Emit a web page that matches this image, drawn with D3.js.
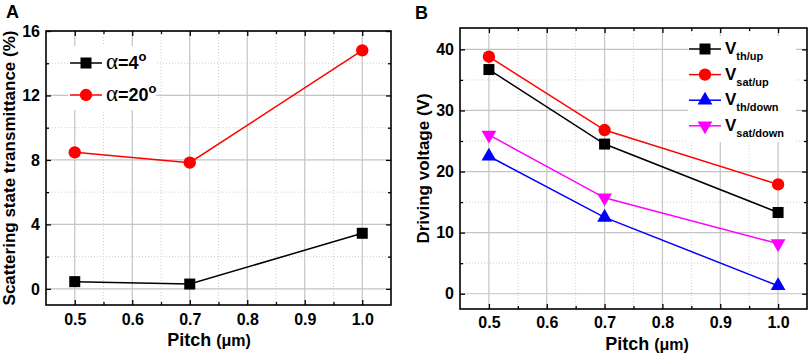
<!DOCTYPE html>
<html>
<head>
<meta charset="utf-8">
<script src="https://cdn.jsdelivr.net/npm/d3@7"></script>
<style>
  body { margin: 0; background: #fff; }
  svg text { font-family: "Liberation Sans", Arial, sans-serif; font-weight: bold; }
</style>
</head>
<body>
<div id="chart"></div>
<script>
// values
const pitch = [0.5, 0.7, 1.0];
const alpha4 = [0.45, 0.3, 3.45];
const alpha20 = [8.47, 7.83, 14.8];
const vThUp = [36.7, 24.5, 13.3];
const vSatUp = [38.8, 26.8, 17.9];
const vThDown = [22.5, 12.5, 1.3];
const vSatDown = [26.0, 15.7, 8.2];

const xTicks = [0.5, 0.6, 0.7, 0.8, 0.9, 1.0];
const xMinor = [0.55, 0.65, 0.75, 0.85, 0.95];
const yTicksA = [0, 4, 8, 12, 16];
const yMinorA = [2, 6, 10, 14];
const yTicksB = [0, 10, 20, 30, 40];
const yMinorB = [5, 15, 25, 35];

var svg = d3.select("#chart").append("svg")
    .attr("width", 809)
    .attr("height", 355);

//draws one framed panel, returns scales
function panel(box, yDomain, yTicks, yMinor) {
    var x = d3.scaleLinear().domain([0.45, 1.05]).range([box.left, box.right]);
    var y = d3.scaleLinear().domain(yDomain).range([box.bottom, box.top]);
    var g = svg.append("g");

    //minor grid (dotted)
    g.selectAll(".gxm").data(xMinor).enter().append("line")
        .attr("x1", d => x(d)).attr("x2", d => x(d))
        .attr("y1", box.top).attr("y2", box.bottom)
        .attr("stroke", "#d0d0d0").attr("stroke-dasharray", "1,2");
    g.selectAll(".gym").data(yMinor).enter().append("line")
        .attr("y1", d => y(d)).attr("y2", d => y(d))
        .attr("x1", box.left).attr("x2", box.right)
        .attr("stroke", "#d0d0d0").attr("stroke-dasharray", "1,2");
    //major grid
    g.selectAll(".gx").data(xTicks).enter().append("line")
        .attr("x1", d => x(d)).attr("x2", d => x(d))
        .attr("y1", box.top).attr("y2", box.bottom)
        .attr("stroke", "#c4c4c4").attr("stroke-width", 1.2);
    g.selectAll(".gy").data(yTicks).enter().append("line")
        .attr("y1", d => y(d)).attr("y2", d => y(d))
        .attr("x1", box.left).attr("x2", box.right)
        .attr("stroke", "#c4c4c4").attr("stroke-width", 1.2);

    //axes with inward ticks on all four sides
    var fmt = d3.format(".1f");
    svg.append("g").attr("transform", "translate(0," + box.bottom + ")")
        .call(d3.axisBottom(x).tickValues(xTicks).tickSizeInner(-5).tickSizeOuter(0).tickPadding(box.xPad).tickFormat(fmt));
    svg.append("g").attr("transform", "translate(0," + box.bottom + ")")
        .call(d3.axisBottom(x).tickValues(xMinor).tickSizeInner(-3).tickSizeOuter(0).tickFormat(""));
    svg.append("g").attr("transform", "translate(0," + box.top + ")")
        .call(d3.axisTop(x).tickValues(xTicks).tickSizeInner(-5).tickSizeOuter(0).tickFormat(""));
    svg.append("g").attr("transform", "translate(0," + box.top + ")")
        .call(d3.axisTop(x).tickValues(xMinor).tickSizeInner(-3).tickSizeOuter(0).tickFormat(""));
    svg.append("g").attr("transform", "translate(" + box.left + ",0)")
        .call(d3.axisLeft(y).tickValues(yTicks).tickSizeInner(-5).tickSizeOuter(0).tickPadding(6));
    svg.append("g").attr("transform", "translate(" + box.left + ",0)")
        .call(d3.axisLeft(y).tickValues(yMinor).tickSizeInner(-3).tickSizeOuter(0).tickFormat(""));
    svg.append("g").attr("transform", "translate(" + box.right + ",0)")
        .call(d3.axisRight(y).tickValues(yTicks).tickSizeInner(-5).tickSizeOuter(0).tickFormat(""));
    svg.append("g").attr("transform", "translate(" + box.right + ",0)")
        .call(d3.axisRight(y).tickValues(yMinor).tickSizeInner(-3).tickSizeOuter(0).tickFormat(""));

    svg.selectAll(".domain").remove();
    svg.selectAll(".tick line").attr("stroke", "#000").attr("stroke-width", 1.3);
    svg.selectAll(".tick text").attr("font-size", 16).attr("font-family", "Liberation Sans")
        .attr("font-weight", "bold").attr("fill", "#000");

    //frame
    svg.append("rect")
        .attr("x", box.left).attr("y", box.top)
        .attr("width", box.right - box.left).attr("height", box.bottom - box.top)
        .attr("fill", "none").attr("stroke", "#000").attr("stroke-width", 1.6);

    return {x: x, y: y};
}

function series(sc, vals, color, shape, size, rot) {
    var pts = pitch.map((p, i) => [p, vals[i]]);
    svg.append("path")
        .datum(pts)
        .attr("fill", "none")
        .attr("stroke", color)
        .attr("stroke-width", 1.5)
        .attr("d", d3.line().x(d => sc.x(d[0])).y(d => sc.y(d[1])));
    svg.selectAll(null).data(pts).enter().append("path")
        .attr("d", d3.symbol().type(shape).size(size))
        .attr("fill", color)
        .attr("transform", d => "translate(" + sc.x(d[0]) + "," + sc.y(d[1]) + ") rotate(" + (rot || 0) + ")");
}

function legendRow(lx, ly, color, shape, size, rot) {
    svg.append("line")
        .attr("x1", lx - 16).attr("x2", lx + 16).attr("y1", ly).attr("y2", ly)
        .attr("stroke", color).attr("stroke-width", 1.5);
    svg.append("path")
        .attr("d", d3.symbol().type(shape).size(size))
        .attr("fill", color)
        .attr("transform", "translate(" + lx + "," + ly + ") rotate(" + (rot || 0) + ")");
}

// ---------- panel A ----------
var a = panel({left: 46, right: 391, top: 31, bottom: 305, xPad: 9}, [-1, 16], yTicksA, yMinorA);
series(a, alpha4, "#000", d3.symbolSquare, 121);
series(a, alpha20, "#ff0000", d3.symbolCircle, 120);

svg.append("rect").attr("x", 68).attr("y", 46).attr("width", 88).attr("height", 64).attr("fill", "#fff");
legendRow(86, 63, "#000", d3.symbolSquare, 121);
legendRow(86, 95, "#ff0000", d3.symbolCircle, 120);
[["4", 63], ["20", 95]].forEach(function(r) {
    var t = svg.append("text").attr("x", 106).attr("y", r[1] + 6).attr("font-size", 18);
    t.append("tspan").attr("font-family", "Liberation Serif").attr("font-weight", "normal").attr("font-size", 23).text("α");
    t.append("tspan").text("=" + r[0]);
    t.append("tspan").attr("font-size", 13).attr("dy", -8).text("o");
});

svg.append("text").attr("x", 6).attr("y", 18).attr("font-size", 18).text("A");
svg.append("text")
    .attr("transform", "translate(15," + (31 + 305) / 2 + ") rotate(-90)")
    .attr("text-anchor", "middle").attr("font-size", 17)
    .text("Scattering state transmittance (%)");
var xa = svg.append("text").attr("x", 209).attr("y", 346).attr("text-anchor", "middle").attr("font-size", 18);
xa.append("tspan").text("Pitch ");
xa.append("tspan").attr("font-size", 16).text("(μm)");

// ---------- panel B ----------
var b = panel({left: 460, right: 807, top: 28, bottom: 309, xPad: 8}, [-2.5, 43.5], yTicksB, yMinorB);
series(b, vThUp, "#000", d3.symbolSquare, 121);
series(b, vSatUp, "#ff0000", d3.symbolCircle, 120);
series(b, vThDown, "#0000ff", d3.symbolTriangle, 95);
series(b, vSatDown, "#ff00ff", d3.symbolTriangle, 95, 180);

svg.append("rect").attr("x", 688).attr("y", 36).attr("width", 108).attr("height", 106).attr("fill", "#fff");
var legB = [
    ["th/up", "#000", d3.symbolSquare, 121, 0],
    ["sat/up", "#ff0000", d3.symbolCircle, 120, 0],
    ["th/down", "#0000ff", d3.symbolTriangle, 95, 0],
    ["sat/down", "#ff00ff", d3.symbolTriangle, 95, 180]
];
legB.forEach(function(r, i) {
    var ly = 49 + i * 25.6;
    legendRow(705, ly, r[1], r[2], r[3], r[4]);
    var t = svg.append("text").attr("x", 725).attr("y", ly + 5).attr("font-size", 17);
    t.append("tspan").text("V");
    t.append("tspan").attr("font-size", 11).attr("dy", 6).text(r[0]);
});

svg.append("text").attr("x", 415).attr("y", 19).attr("font-size", 18).text("B");
svg.append("text")
    .attr("transform", "translate(429," + (28 + 309) / 2 + ") rotate(-90)")
    .attr("text-anchor", "middle").attr("font-size", 17)
    .text("Driving voltage (V)");
var xb = svg.append("text").attr("x", 647).attr("y", 350).attr("text-anchor", "middle").attr("font-size", 18);
xb.append("tspan").text("Pitch ");
xb.append("tspan").attr("font-size", 16).text("(μm)");
</script>
</body>
</html>
